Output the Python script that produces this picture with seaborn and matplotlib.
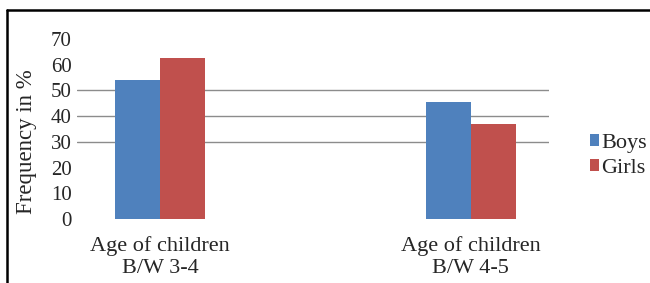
import pandas as pd
import matplotlib.pyplot as plt
import seaborn as sns
from matplotlib.lines import Line2D

categories = ["Age of children\nB/W 3-4", "Age of children\nB/W 4-5"]
boys = [54, 45.5]
girls = [62.5, 37]
yticks = [0, 10, 20, 30, 40, 50, 60, 70]
grid_levels = [30, 40, 50]

df = pd.DataFrame({
    "Age": categories * 2,
    "Gender": ["Boys"] * 2 + ["Girls"] * 2,
    "Frequency": boys + girls,
})

sns.set_style("white")
plt.rcParams["font.family"] = ["Liberation Serif", "DejaVu Serif"]

fig = plt.figure(figsize=(6.5, 2.83), dpi=100)
ax = fig.add_axes([0.1185, 0.226, 0.726, 0.636])

sns.barplot(data=df, x="Age", y="Frequency", hue="Gender",
            palette={"Boys": "#4F81BD", "Girls": "#C0504D"},
            width=0.29, gap=0, saturation=1, linewidth=0, ax=ax)

ax.set_xlim(-0.267, 1.251)
ax.set_ylim(0, 70)
ax.set_yticks(yticks)
for lvl in grid_levels:
    ax.axhline(lvl, color="#8c8c8c", lw=1, zorder=0)
ax.set_axisbelow(True)

sns.despine(ax=ax, left=True, bottom=True)
ax.tick_params(axis="both", length=0)
ax.tick_params(axis="y", pad=4, labelsize=15)
ax.tick_params(axis="x", pad=12, labelsize=16)
for t in ax.get_xticklabels():
    t.set_linespacing(1.25)
ax.set_xlabel("")
ax.set_ylabel("Frequency in %", fontsize=16.5)
ax.yaxis.set_label_coords(-0.084, 0.43)

handles, labels = ax.get_legend_handles_labels()
ax.legend(handles, labels, frameon=False, fontsize=16,
          loc="center left", bbox_to_anchor=(0.89, 0.449),
          bbox_transform=fig.transFigure,
          handlelength=0.42, handleheight=0.42, handletextpad=0.12,
          labelspacing=0.25, borderpad=0)

# page frame
fig.add_artist(Line2D([0.0108, 1.0], [0.966, 0.966], color="black", lw=1.8,
                      transform=fig.transFigure))
fig.add_artist(Line2D([0.0108, 0.0108], [0.0, 0.966], color="black", lw=1.8,
                      transform=fig.transFigure))

fig.savefig("out.png", dpi=100)
